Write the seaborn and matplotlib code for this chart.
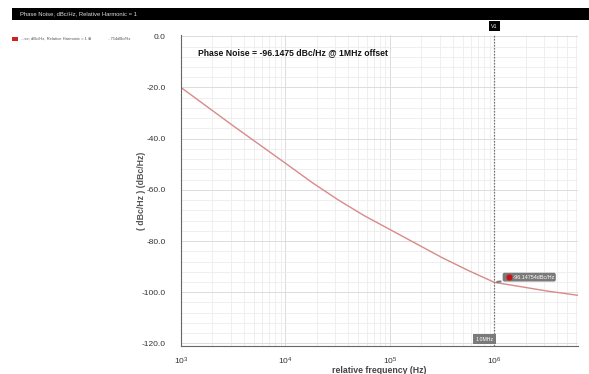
import numpy as np
import pandas as pd
import matplotlib
matplotlib.use("Agg")
import matplotlib.pyplot as plt
import seaborn as sns
from matplotlib.ticker import LogLocator, MultipleLocator, NullFormatter, FixedLocator

# Data (offset frequency in Hz, phase noise in dBc/Hz)
freq_hz = [1e3, 1.778e3, 3.162e3, 5.623e3, 1e4, 1.778e4, 3.162e4, 5.623e4,
           1e5, 1.778e5, 3.162e5, 5.623e5, 1e6, 1.778e6, 3.162e6, 6.31e6]
phase_noise = [-20.0, -27.5, -35.0, -42.3, -49.6, -57.0, -63.8, -70.0,
               -75.5, -81.0, -86.5, -91.5, -96.15, -97.8, -99.5, -101.2]
y_ticks = [0, -20, -40, -60, -80, -100, -120]
marker_freq = 1e6
marker_value = -96.14754
title_text = "Phase Noise, dBc/Hz, Relative Harmonic = 1"
annot_text = "Phase Noise = -96.1475 dBc/Hz @ 1MHz offset"

df = pd.DataFrame({"freq": freq_hz, "pn": phase_noise})

sns.set_theme(style="white")
plt.rcParams['font.family'] = ['Liberation Sans', 'DejaVu Sans']

fig = plt.figure(figsize=(5.89, 3.74), dpi=100)
fig.patch.set_facecolor("white")
ax = fig.add_axes([181/589, 1-346/374, (578-181)/589, (346-35)/374])

sns.lineplot(data=df, x="freq", y="pn", ax=ax, color="#d98a88", linewidth=1.0)
ax.set_xscale("log")
ax.set_xlim(1e3, 10**6.8)
ax.set_ylim(-121, 0.5)

# grid
ax.xaxis.set_major_locator(LogLocator(base=10, numticks=10))
ax.xaxis.set_minor_locator(LogLocator(base=10, subs=np.arange(2, 10), numticks=20))
ax.xaxis.set_minor_formatter(NullFormatter())
ax.yaxis.set_major_locator(FixedLocator(y_ticks))
ax.yaxis.set_minor_locator(MultipleLocator(4))
ax.set_yticklabels([f"{v:.1f}" for v in y_ticks])
ax.grid(True, which="major", color="#dcdcdc", linewidth=0.7)
ax.grid(True, which="minor", color="#ececec", linewidth=0.6)
ax.set_axisbelow(True)

for s in ["top", "right"]:
    ax.spines[s].set_visible(False)
for s in ["left", "bottom"]:
    ax.spines[s].set_color("#666666")
    ax.spines[s].set_linewidth(0.8)

ax.tick_params(axis="both", which="both", direction="out", colors="#666666",
               labelcolor="#333333", labelsize=6)
ax.tick_params(axis="both", which="major", length=3, width=0.7)
ax.tick_params(axis="both", which="minor", length=2, width=0.6)
ax.tick_params(axis="y", pad=8)
ax.tick_params(axis="x", pad=4)

ax.set_xlabel("relative frequency (Hz)", fontsize=6.3, fontweight="bold", color="#444444", labelpad=-1.0)
ax.set_ylabel("( dBc/Hz ) (dBc/Hz)", fontsize=6.3, fontweight="bold", color="#555555", labelpad=-3)

# vertical marker line
ax.axvline(marker_freq, color="#777777", linestyle=(0, (1.2, 1.2)), linewidth=0.9)

# annotation text
ax.text(1.45e3, -6.5, annot_text, fontsize=6.2, fontweight="bold", color="#111111",
        ha="left", va="center")

# marker value label
ax.annotate("     " + f"{marker_value:.5f}dBc/Hz", xy=(marker_freq, marker_value),
            xytext=(1.25e6, -94.1), fontsize=3.9, color="white", va="center", ha="left",
            bbox=dict(boxstyle="round,pad=0.35", fc="#7a7a7a", ec="none"),
            arrowprops=dict(arrowstyle="-", color="#7a7a7a", lw=1.5))
ax.plot([1.39e6], [-94.1], marker="o", color="#cc1111", markersize=3.4, zorder=10)

# 1.0MHz label at bottom
ax.text(marker_freq / 1.02, -118.3, "1.0MHz", fontsize=3.8, color="white", ha="right", va="center",
        bbox=dict(boxstyle="square,pad=0.4", fc="#7a7a7a", ec="none"))

# title bar
fig.patches.append(plt.Rectangle((12/589, 1-20/374), 1-12/589, 12/374, transform=fig.transFigure,
                                 facecolor="black", edgecolor="none"))
fig.text(20/589, 1-14/374, title_text, fontsize=4.2, color="#dddddd", ha="left", va="center")

# V1 tag
xv = ax.transData.transform((marker_freq, 0))[0] / fig.bbox.width
fig.text(xv, 1-26/374, "V1", fontsize=3.8, color="white", ha="center", va="center",
         bbox=dict(boxstyle="square,pad=0.45", fc="black", ec="none"))

# legend
fig.patches.append(plt.Rectangle((12/589, 1-41/374), 6/589, 4/374, transform=fig.transFigure,
                                 facecolor="#cc2222", edgecolor="none"))
fig.text(21/589, 1-39/374, "...se; dBc/Hz, Relative Harmonic = 1 \u2295", fontsize=3.0,
         color="#555555", ha="left", va="center")
fig.text(108/589, 1-39/374, "...754dBc/Hz", fontsize=3.0, color="#555555", ha="left", va="center")

fig.savefig("out.png", dpi=100)
